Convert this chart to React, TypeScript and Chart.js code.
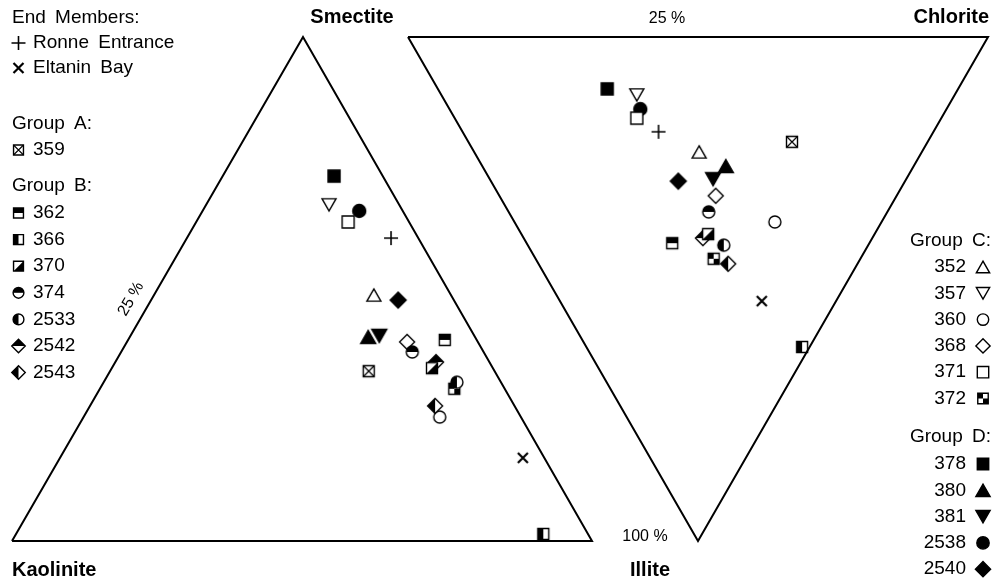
import { useEffect, useRef } from 'react';
import { Chart, registerables } from 'chart.js';

Chart.register(...registerables);

// ---------- data (fractions of each plotted triangle, %) ----------
const samples = [
  'Ronne Entrance', 'Eltanin Bay', '359', '362', '366', '370', '374', '2533', '2542', '2543',
  '352', '357', '360', '368', '371', '372', '378', '380', '381', '2538', '2540',
];
// Left triangle: Kaolinite – Smectite – Illite
const leftSmectite = [60.1, 16.5, 33.7, 39.9, 1.4, 34.3, 37.5, 31.5, 35.5, 26.8, 48.8, 66.7, 24.6, 39.5, 63.3, 30.2, 72.4, 40.5, 40.7, 65.5, 47.8];
const leftIllite = [35.2, 79.8, 44.6, 54.6, 90.9, 55.2, 50.2, 60.9, 55.3, 59.5, 37.9, 21.2, 61.4, 48.3, 26.2, 61.1, 19.2, 41.1, 42.9, 27.0, 42.6];
// Right triangle: Smectite – Chlorite – Illite
const rightIllite = [18.8, 52.4, 20.8, 40.9, 61.5, 39.1, 34.7, 41.3, 39.9, 45.0, 22.8, 11.5, 36.7, 31.5, 16.1, 44.0, 10.3, 25.6, 28.2, 14.3, 28.6];
const rightChlorite = [33.8, 34.8, 55.8, 25.1, 37.2, 32.2, 34.5, 33.8, 30.9, 32.7, 38.8, 33.7, 44.9, 37.3, 31.4, 30.7, 29.2, 42.0, 38.5, 32.9, 32.3];

const endMembers = ['Ronne Entrance', 'Eltanin Bay'];
const groupA = ['359'];
const groupB = ['362', '366', '370', '374', '2533', '2542', '2543'];
const groupC = ['352', '357', '360', '368', '371', '372'];
const groupD = ['378', '380', '381', '2538', '2540'];

// ---------- layout / styles ----------
const LEFT = { K: [12, 541], S: [303, 37], I: [592, 541] };
const RIGHT = { S: [408, 37], C: [988, 37], I: [698, 541] };

type Spec = { shape: string; fill: string; w: number };
const markers: Record<string, Spec> = {
  'Ronne Entrance': { shape: 'plus', fill: 'none', w: 14 },
  'Eltanin Bay': { shape: 'cross', fill: 'none', w: 10 },
  '359': { shape: 'square', fill: 'x', w: 11 },
  '362': { shape: 'square', fill: 'top', w: 11 },
  '366': { shape: 'square', fill: 'left', w: 11 },
  '370': { shape: 'square', fill: 'diag', w: 11 },
  '374': { shape: 'circle', fill: 'top', w: 12 },
  '2533': { shape: 'circle', fill: 'left', w: 12 },
  '2542': { shape: 'diamond', fill: 'top', w: 15 },
  '2543': { shape: 'diamond', fill: 'left', w: 15 },
  '352': { shape: 'triUp', fill: 'none', w: 14 },
  '357': { shape: 'triDown', fill: 'none', w: 14 },
  '360': { shape: 'circle', fill: 'none', w: 12 },
  '368': { shape: 'diamond', fill: 'none', w: 15 },
  '371': { shape: 'square', fill: 'none', w: 12 },
  '372': { shape: 'square', fill: 'checker', w: 11 },
  '378': { shape: 'square', fill: 'all', w: 12 },
  '380': { shape: 'triUp', fill: 'all', w: 15 },
  '381': { shape: 'triDown', fill: 'all', w: 15 },
  '2538': { shape: 'circle', fill: 'all', w: 13 },
  '2540': { shape: 'diamond', fill: 'all', w: 16 },
};

function shapePath(ctx: CanvasRenderingContext2D, shape: string, cx: number, cy: number, w: number) {
  const h = w / 2;
  const H = w * 0.87;
  ctx.beginPath();
  if (shape === 'square') ctx.rect(cx - h, cy - h, w, w);
  else if (shape === 'circle') ctx.arc(cx, cy, h, 0, Math.PI * 2);
  else if (shape === 'diamond') {
    ctx.moveTo(cx, cy - h); ctx.lineTo(cx + h, cy); ctx.lineTo(cx, cy + h); ctx.lineTo(cx - h, cy); ctx.closePath();
  } else if (shape === 'triUp') {
    ctx.moveTo(cx, cy - H / 2); ctx.lineTo(cx + h, cy + H / 2); ctx.lineTo(cx - h, cy + H / 2); ctx.closePath();
  } else if (shape === 'triDown') {
    ctx.moveTo(cx - h, cy - H / 2); ctx.lineTo(cx + h, cy - H / 2); ctx.lineTo(cx, cy + H / 2); ctx.closePath();
  }
}

function drawMarker(ctx: CanvasRenderingContext2D, spec: Spec, cx: number, cy: number, scale = 1) {
  const w = spec.w * scale;
  const h = w / 2;
  ctx.save();
  ctx.strokeStyle = '#000';
  ctx.fillStyle = '#000';
  ctx.lineCap = 'butt';
  if (spec.shape === 'plus') {
    ctx.lineWidth = 1.6;
    ctx.beginPath();
    ctx.moveTo(cx - h, cy); ctx.lineTo(cx + h, cy);
    ctx.moveTo(cx, cy - h); ctx.lineTo(cx, cy + h);
    ctx.stroke();
    ctx.restore();
    return;
  }
  if (spec.shape === 'cross') {
    ctx.lineWidth = 2.2;
    ctx.beginPath();
    ctx.moveTo(cx - h, cy - h); ctx.lineTo(cx + h, cy + h);
    ctx.moveTo(cx + h, cy - h); ctx.lineTo(cx - h, cy + h);
    ctx.stroke();
    ctx.restore();
    return;
  }
  ctx.lineWidth = 1.4;
  shapePath(ctx, spec.shape, cx, cy, w);
  ctx.fillStyle = '#fff';
  ctx.fill();
  ctx.fillStyle = '#000';
  ctx.save();
  shapePath(ctx, spec.shape, cx, cy, w);
  ctx.clip();
  if (spec.fill === 'all') ctx.fillRect(cx - w, cy - w, 2 * w, 2 * w);
  else if (spec.fill === 'top') ctx.fillRect(cx - w, cy - w, 2 * w, w);
  else if (spec.fill === 'left') ctx.fillRect(cx - w, cy - w, w, 2 * w);
  else if (spec.fill === 'diag') {
    ctx.beginPath(); ctx.moveTo(cx + h, cy - h); ctx.lineTo(cx + h, cy + h); ctx.lineTo(cx - h, cy + h); ctx.closePath(); ctx.fill();
  } else if (spec.fill === 'checker') {
    ctx.fillRect(cx - h, cy - h, h, h); ctx.fillRect(cx, cy, h, h);
  } else if (spec.fill === 'x') {
    ctx.lineWidth = 1.2;
    ctx.beginPath();
    ctx.moveTo(cx - h, cy - h); ctx.lineTo(cx + h, cy + h);
    ctx.moveTo(cx + h, cy - h); ctx.lineTo(cx - h, cy + h);
    ctx.stroke();
  }
  ctx.restore();
  shapePath(ctx, spec.shape, cx, cy, w);
  ctx.stroke();
  ctx.restore();
}

function markerCanvas(spec: Spec): HTMLCanvasElement {
  const size = Math.ceil(spec.w * 1.3) + 4;
  const s = size % 2 === 0 ? size : size + 1;
  const c = document.createElement('canvas');
  c.width = s; c.height = s;
  const ctx = c.getContext('2d')!;
  drawMarker(ctx, spec, s / 2, s / 2);
  return c;
}

function leftXY(s: number, i: number) {
  const a = s / 100, b = i / 100, k = 1 - a - b;
  return {
    x: LEFT.S[0] * a + LEFT.I[0] * b + LEFT.K[0] * k,
    y: LEFT.S[1] * a + LEFT.I[1] * b + LEFT.K[1] * k,
  };
}
function rightXY(i: number, c: number) {
  const a = i / 100, b = c / 100, sm = 1 - a - b;
  return {
    x: RIGHT.I[0] * a + RIGHT.C[0] * b + RIGHT.S[0] * sm,
    y: RIGHT.I[1] * a + RIGHT.C[1] * b + RIGHT.S[1] * sm,
  };
}

const REG = '19px "Liberation Sans", Arial, Helvetica, sans-serif';
const BOLD = 'bold 20px "Liberation Sans", Arial, Helvetica, sans-serif';
const SMALL = '16px "Liberation Sans", Arial, Helvetica, sans-serif';

const textPlugin = {
  id: 'ternaryText',
  afterDraw(chart: any) {
    const ctx: CanvasRenderingContext2D = chart.ctx;
    ctx.save();
    ctx.fillStyle = '#000';
    ctx.textBaseline = 'middle';
    (ctx as any).wordSpacing = '4px';

    // vertex labels
    ctx.font = BOLD;
    ctx.textAlign = 'center';
    ctx.fillText('Smectite', 352, 17);
    ctx.fillText('Illite', 650, 570);
    ctx.textAlign = 'right';
    ctx.fillText('Chlorite', 989, 17);
    ctx.textAlign = 'left';
    ctx.fillText('Kaolinite', 12, 570);

    // scale annotations
    ctx.font = SMALL;
    (ctx as any).wordSpacing = '0px';
    ctx.textAlign = 'center';
    ctx.fillText('25 %', 667, 19);
    ctx.fillText('100 %', 645, 537);
    ctx.save();
    ctx.translate(131, 299);
    ctx.rotate(-Math.PI / 3);
    ctx.fillText('25 %', 0, 0);
    ctx.restore();

    // left legend
    (ctx as any).wordSpacing = '4px';
    ctx.font = REG;
    ctx.textAlign = 'left';
    ctx.fillText('End Members:', 12, 18);
    const leftRows: [string, number][] = [];
    endMembers.forEach((n, k) => leftRows.push([n, 43 + k * 25]));
    ctx.fillText('Group A:', 12, 124);
    groupA.forEach((n, k) => leftRows.push([n, 150 + k * 26.5]));
    ctx.fillText('Group B:', 12, 186);
    groupB.forEach((n, k) => leftRows.push([n, 213 + k * 26.6]));
    leftRows.forEach(([n, y]) => {
      const spec = markers[n];
      const sc = spec.shape === 'plus' || spec.shape === 'cross' ? 1 : 0.9;
      drawMarker(ctx, spec, 18.5, y, sc);
      ctx.fillText(n, 33, y);
    });

    // right legend
    ctx.textAlign = 'right';
    ctx.fillText('Group C:', 991, 241);
    ctx.fillText('Group D:', 991, 437);
    const rightRows: [string, number][] = [];
    groupC.forEach((n, k) => rightRows.push([n, 267 + k * 26.3]));
    groupD.forEach((n, k) => rightRows.push([n, 464 + k * 26.3]));
    rightRows.forEach(([n, y]) => {
      ctx.fillText(n, 966, y);
      drawMarker(ctx, markers[n], 983, y, 0.95);
    });
    ctx.restore();
  },
};

export default function App() {
  const ref = useRef<HTMLCanvasElement>(null);
  useEffect(() => {
    document.body.style.margin = '0';
    const canvas = ref.current!;
    const outline = (t: Record<string, number[]>, keys: string[]) =>
      [...keys, keys[0]].map((k) => ({ x: t[k][0], y: t[k][1] }));
    const datasets: any[] = [
      {
        type: 'line', label: 'left triangle', data: outline(LEFT, ['K', 'S', 'I']),
        borderColor: '#000', borderWidth: 2, pointRadius: 0, fill: false, tension: 0,
      },
      {
        type: 'line', label: 'right triangle', data: outline(RIGHT, ['S', 'C', 'I']),
        borderColor: '#000', borderWidth: 2, pointRadius: 0, fill: false, tension: 0,
      },
    ];
    samples.forEach((name, k) => {
      datasets.push({
        type: 'scatter',
        label: name,
        data: [leftXY(leftSmectite[k], leftIllite[k]), rightXY(rightIllite[k], rightChlorite[k])],
        pointStyle: markerCanvas(markers[name]),
        pointRadius: 6,
      });
    });
    const chart = new Chart(canvas, {
      type: 'scatter',
      data: { datasets },
      options: {
        responsive: false,
        animation: false,
        layout: { padding: 0, autoPadding: false },
        scales: {
          x: { type: 'linear', min: 0, max: 995, display: false },
          y: { type: 'linear', min: 0, max: 581, reverse: true, display: false },
        },
        plugins: { legend: { display: false }, tooltip: { enabled: false }, title: { display: false } },
      },
      plugins: [textPlugin],
    });
    return () => chart.destroy();
  }, []);
  return (
    <div style={{ width: 995, height: 581, background: '#fff' }}>
      <canvas ref={ref} width={995} height={581} />
    </div>
  );
}
